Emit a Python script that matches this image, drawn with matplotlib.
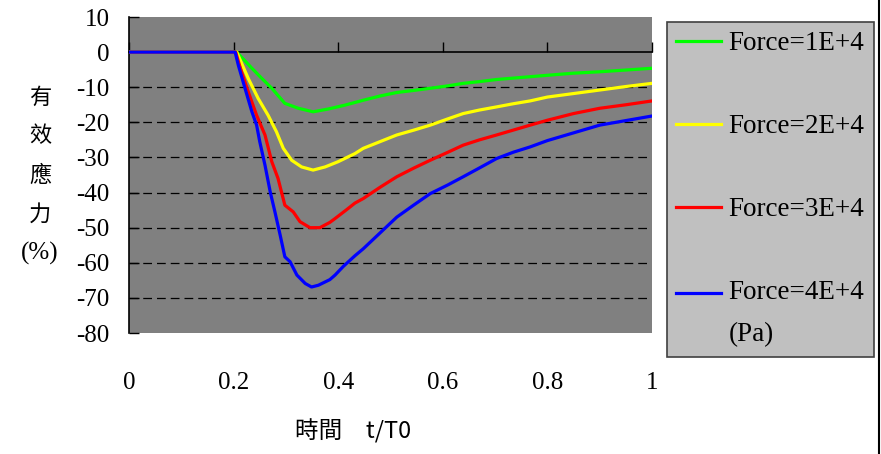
import matplotlib
matplotlib.use("Agg")
import matplotlib.pyplot as plt
from matplotlib.legend_handler import HandlerLine2D
from matplotlib.lines import Line2D

# 時間 t/T0 and 有效應力 (%) for each force level
t1 = [0, 0.206, 0.235, 0.254, 0.273, 0.298, 0.324, 0.352, 0.381, 0.413,
      0.448, 0.48, 0.512, 0.545, 0.576, 0.61, 0.639, 0.67, 0.703, 0.735,
      0.767, 0.8, 0.85, 0.9, 0.95, 1.0]
f1 = [0, 0, -4.6, -7.5, -10.3, -14.6, -16, -17, -16.2, -15.1,
      -13.7, -12.5, -11.5, -10.9, -10.3, -9.6, -8.9, -8.4, -7.8, -7.4,
      -7.0, -6.6, -6.0, -5.6, -5.1, -4.6]

t2 = [0, 0.206, 0.228, 0.247, 0.266, 0.282, 0.295, 0.311, 0.33, 0.352,
      0.375, 0.4, 0.432, 0.448, 0.48, 0.512, 0.545, 0.576, 0.61, 0.639,
      0.67, 0.703, 0.735, 0.767, 0.8, 0.85, 0.9, 0.95, 1.0]
f2 = [0, 0, -7.5, -13.2, -18, -22.7, -27.4, -30.8, -32.7, -33.6,
      -32.7, -31.2, -28.9, -27.4, -25.5, -23.6, -22.2, -20.8, -19, -17.5,
      -16.5, -15.6, -14.7, -13.9, -12.8, -11.8, -10.8, -9.8, -8.9]

t3 = [0, 0.204, 0.215, 0.228, 0.244, 0.26, 0.273, 0.285, 0.298, 0.314,
      0.327, 0.346, 0.365, 0.384, 0.394, 0.415, 0.432, 0.448, 0.48, 0.512,
      0.545, 0.576, 0.61, 0.639, 0.67, 0.703, 0.735, 0.767, 0.8, 0.85,
      0.9, 0.95, 1.0]
f3 = [0, 0, -5.6, -11.3, -18, -23.6, -31.2, -36, -43.6, -45.5,
      -48.3, -50, -50, -48.5, -47.4, -45, -43, -41.7, -38.5, -35.5,
      -33, -30.8, -28.5, -26.5, -25, -23.6, -22.2, -20.8, -19.4, -17.5,
      -16, -15, -13.9]

t4 = [0, 0.203, 0.209, 0.222, 0.235, 0.244, 0.25, 0.26, 0.27, 0.279,
      0.289, 0.298, 0.308, 0.321, 0.337, 0.349, 0.362, 0.384, 0.394, 0.41,
      0.432, 0.448, 0.48, 0.512, 0.545, 0.576, 0.61, 0.639, 0.67, 0.703,
      0.735, 0.767, 0.8, 0.85, 0.9, 0.95, 1.0]
f4 = [0, 0, -3.7, -10.4, -17, -20.8, -25.5, -32.2, -39.8, -45.5,
      -52.1, -58.3, -59.7, -63.5, -65.9, -66.9, -66.4, -64.8, -63.5, -61,
      -58, -56, -51.5, -47, -43.5, -40.3, -37.8, -35.5, -33, -30.3,
      -28.5, -27, -25.2, -23, -20.8, -19.5, -18.2]

labels = ["Force=1E+4", "Force=2E+4", "Force=3E+4", "Force=4E+4\n(Pa)"]
colors = ["#00FF00", "#FFFF00", "#FF0000", "#0000FF"]
xticks = [0, 0.2, 0.4, 0.6, 0.8, 1]
yticks = list(range(10, -90, -10))
ylabel_chars = ["有", "效", "應", "力", "(%)"]

serif = ["Liberation Serif", "DejaVu Serif"]
cjk = ["Noto Sans CJK TC", "DejaVu Sans"]


class ShiftedLine(HandlerLine2D):
    # put the handle next to the first line of a two-line label
    def __init__(self, shift, **kw):
        super().__init__(**kw)
        self.shift = shift

    def create_artists(self, legend, orig_handle, xdescent, ydescent,
                       width, height, fontsize, trans):
        return super().create_artists(legend, orig_handle, xdescent,
                                      ydescent - 2 * self.shift, width,
                                      height, fontsize, trans)


fig = plt.figure(figsize=(8.81, 4.54), dpi=100)
ax = fig.add_axes([129 / 881, 1 - 333 / 454, 523 / 881, 316 / 454])
ax.set_facecolor("#808080")

lines = []
for xs, ys, c, lab in zip([t1, t2, t3, t4], [f1, f2, f3, f4], colors, labels):
    ln, = ax.plot(xs, ys, color=c, lw=2.3, label=lab, zorder=3,
                  solid_joinstyle="round")
    lines.append(ln)

ax.set_xlim(0, 1)
ax.set_ylim(-80, 10)

for y in yticks:
    if -80 < y < 0:
        ax.axhline(y, color="black", lw=0.9, ls=(0, (7, 4)), zorder=1)

for s in ["top", "right"]:
    ax.spines[s].set_visible(False)
ax.spines["left"].set_linewidth(1.2)
ax.spines["bottom"].set_position(("data", 0))
ax.spines["bottom"].set_linewidth(1.2)
ax.spines["bottom"].set_zorder(2)

ax.set_xticks(xticks)
ax.tick_params(axis="x", direction="in", length=7, width=1, labelbottom=False)
ax.set_yticks(yticks)
ax.set_yticklabels([str(v) for v in yticks], family=serif, fontsize=18)
ax.tick_params(axis="y", direction="in", length=7, width=1, pad=14)

sec = ax.secondary_xaxis("bottom")
sec.set_xticks(xticks)
sec.set_xticklabels([str(v) for v in xticks], family=serif, fontsize=18)
sec.tick_params(length=0, pad=28)
sec.spines["bottom"].set_visible(False)

ax.text(0.428, -0.31, "時間　t/T0", transform=ax.transAxes, family=cjk,
        fontsize=17, ha="center", va="center")

for i, ch in enumerate(ylabel_chars):
    if ch == "(%)":
        fig.text(40 / 881, 1 - (97 + 39 * i) / 454, ch, family=serif,
                 fontsize=18, ha="center", va="center")
    else:
        fig.text(40 / 881, 1 - (97 + 39 * i) / 454, ch, family=cjk,
                 fontsize=16, ha="center", va="center")

leg = fig.legend(handles=lines, labels=labels,
                 loc="upper left", bbox_to_anchor=(667 / 881, 1 - 22 / 454),
                 borderaxespad=0,
                 prop={"family": serif, "size": 19.5},
                 handlelength=1.66, handletextpad=0.26, borderpad=0.35,
                 labelspacing=2.14, fancybox=False,
                 handler_map={lines[3]: ShiftedLine(shift=15)})
leg.get_texts()[3].set_linespacing(1.9)
leg.get_frame().set_facecolor("#C0C0C0")
leg.get_frame().set_edgecolor("#404040")
leg.get_frame().set_linewidth(1.2)
leg.get_frame().set_alpha(1)

fig.add_artist(Line2D([878.5 / 881, 878.5 / 881], [0, 1], color="black", lw=1.5,
                      transform=fig.transFigure))

fig.savefig("out.png", dpi=100)
